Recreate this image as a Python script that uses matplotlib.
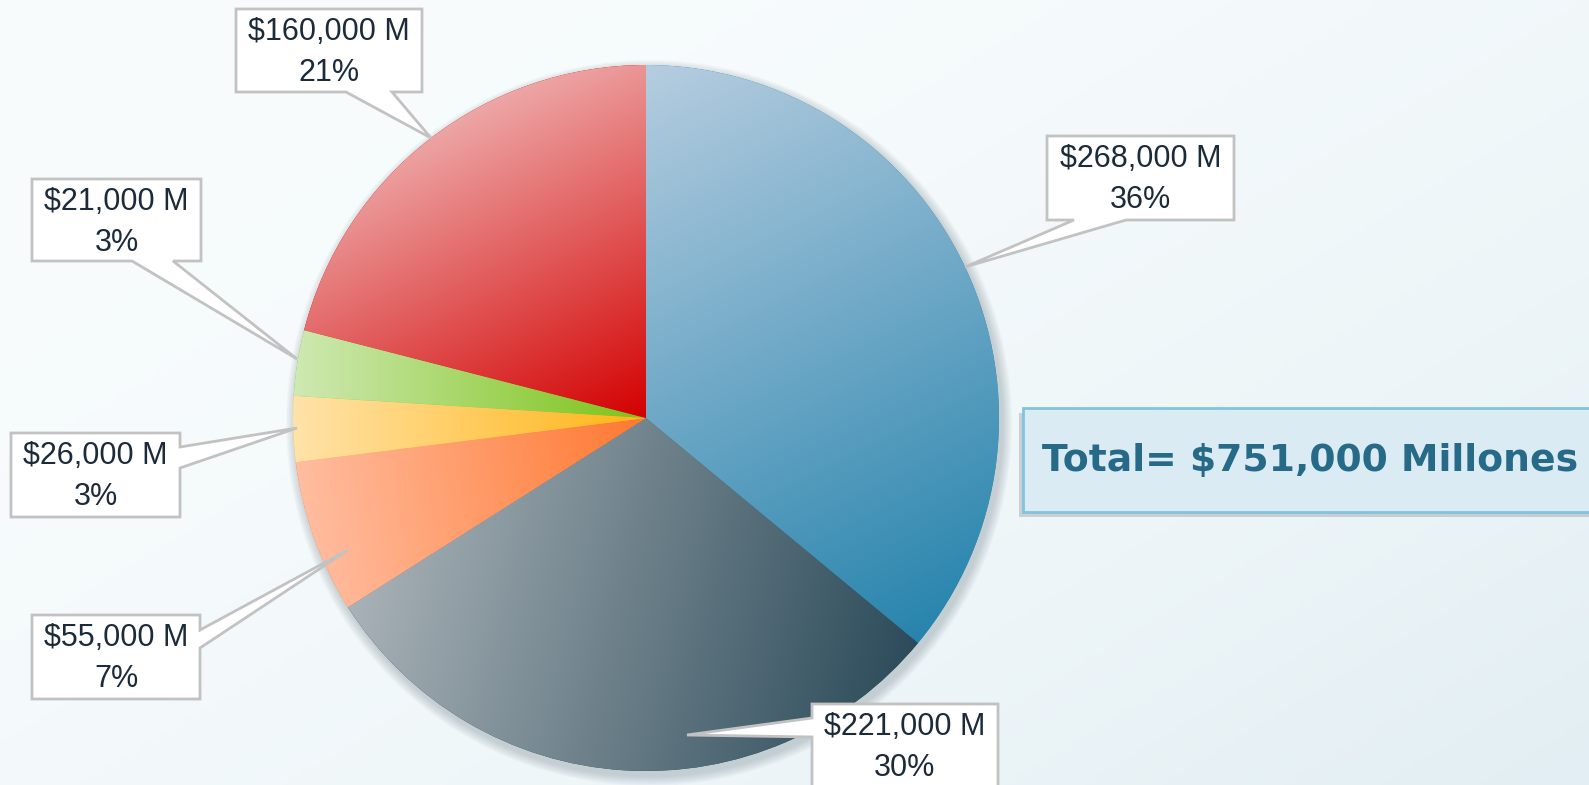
import numpy as np
import matplotlib
matplotlib.use('Agg')
import matplotlib.pyplot as plt
from matplotlib.patches import Polygon, Rectangle, Circle
from matplotlib.colors import to_rgb

# ---- data ----
amount_labels = ['$268,000 M', '$221,000 M', '$55,000 M', '$26,000 M', '$21,000 M', '$160,000 M']
pct_values = [36, 30, 7, 3, 3, 21]   # slices are drawn from the rounded shares
total_label = 'Total= $751,000 Millones'

# light -> dark gradient per slice, and gradient direction (screen coords)
light_cols = ['#b6cde0', '#a9b2b7', '#ffbda0', '#ffe3aa', '#cfe9b3', '#eeaaaa']
dark_cols = ['#2784ad', '#2c4b5a', '#ff7830', '#ffb514', '#7cc316', '#d30000']
grad_dirs = [(0.45, 0.9), (1.0, 0.25), (1.0, -0.15), (1.0, 0.0), (1.0, 0.0), (0.5, 1.0)]

W, H = 1589, 785
CX, CY, R = 646, 418, 353
TEXT_C = '#1c2b3a'
EDGE_C = '#c2c2c2'

fig = plt.figure(figsize=(W / 100, H / 100), dpi=100)
ax = fig.add_axes([0, 0, 1, 1])

# background: very light blue wash
gx, gy = np.meshgrid(np.linspace(0, 1, 400), np.linspace(0, 1, 200))
t = np.clip(0.55 * gx + 0.45 * gy, 0, 1) ** 2
c0, c1 = np.array(to_rgb('#f8fcfd')), np.array(to_rgb('#e2eef3'))
bg = c0 + (c1 - c0) * t[..., None]
ax.imshow(bg, extent=(0, W, H, 0), origin='upper', zorder=0, aspect='auto')

# soft shadow under the pie
for k in range(10):
    ax.add_patch(Circle((CX + 3, CY + 5), R + 10 - k, facecolor='#7a8a92',
                        edgecolor='none', alpha=0.04, zorder=1))

wedges, _ = ax.pie(pct_values, center=(CX, CY), radius=R, startangle=270, counterclock=True,
                   colors=dark_cols, wedgeprops=dict(linewidth=0, zorder=2))

# gradient fill for each wedge
x0, x1, y0, y1 = CX - R - 2, CX + R + 2, CY - R - 2, CY + R + 2
XX, YY = np.meshgrid(np.linspace(x0, x1, 720), np.linspace(y0, y1, 720))
for w, lc, dc, (dx, dy) in zip(wedges, light_cols, dark_cols, grad_dirs):
    n = np.hypot(dx, dy)
    dx, dy = dx / n, dy / n
    verts = w.get_path().vertices
    proj_v = verts[:, 0] * dx + verts[:, 1] * dy
    proj = XX * dx + YY * dy
    tt = np.clip((proj - proj_v.min()) / (proj_v.max() - proj_v.min()), 0, 1)
    a, b = np.array(to_rgb(lc)), np.array(to_rgb(dc))
    img = a + (b - a) * tt[..., None]
    im = ax.imshow(img, extent=(x0, x1, y1, y0), origin='upper', zorder=3, aspect='auto')
    im.set_clip_path(w)


def bubble(bx0, by0, bx1, by1, side, a, b, tip):
    pts = [(bx0, by0), (bx1, by0)]
    if side == 'right':
        pts += [(bx1, a), tip, (bx1, b)]
    pts.append((bx1, by1))
    if side == 'bottom':
        pts += [(b, by1), tip, (a, by1)]
    pts.append((bx0, by1))
    if side == 'left':
        pts += [(bx0, b), tip, (bx0, a)]
    return pts


# callout boxes (same order as the slices)
boxes = [
    ((1047, 136, 1234, 220), 'bottom', 1074, 1126, (965, 267)),
    ((812, 704, 998, 805), 'left', 718, 737, (687, 735)),
    ((32, 615, 200, 699), 'right', 630, 648, (348, 550)),
    ((11, 433, 180, 517), 'right', 447, 468, (297, 428)),
    ((32, 179, 201, 261), 'bottom', 132, 173, (297, 359)),
    ((236, 9, 422, 92), 'bottom', 346, 392, (431, 138)),
]
for (bb, side, a, b, tip), amt, pct in zip(boxes, amount_labels, pct_values):
    ax.add_patch(Polygon(bubble(*bb, side, a, b, tip), closed=True, facecolor='white',
                         edgecolor=EDGE_C, linewidth=2, zorder=5, joinstyle='miter'))
    mx = (bb[0] + bb[2]) / 2
    ty = bb[1] + 23
    ax.text(mx, ty, amt, ha='center', va='center', fontsize=22, color=TEXT_C,
            family='Liberation Sans', zorder=6)
    ax.text(mx, ty + 41, f'{pct}%', ha='center', va='center', fontsize=22, color=TEXT_C,
            family='Liberation Sans', zorder=6)

# total box
ax.add_patch(Rectangle((1019, 413), 600, 104, facecolor='#9aa4a8', edgecolor='none',
                       alpha=0.45, zorder=5))
ax.add_patch(Rectangle((1023, 408), 600, 104, facecolor='#daebf4', edgecolor='#82c3de',
                       linewidth=2, zorder=6))
ax.text(1042, 461, total_label, ha='left', va='center', fontsize=27.2, fontweight='bold',
        color='#266a88', family='DejaVu Sans', zorder=7)

ax.set_xlim(0, W)
ax.set_ylim(H, 0)
ax.set_aspect('auto')
ax.axis('off')
fig.savefig('out.png', dpi=100)
